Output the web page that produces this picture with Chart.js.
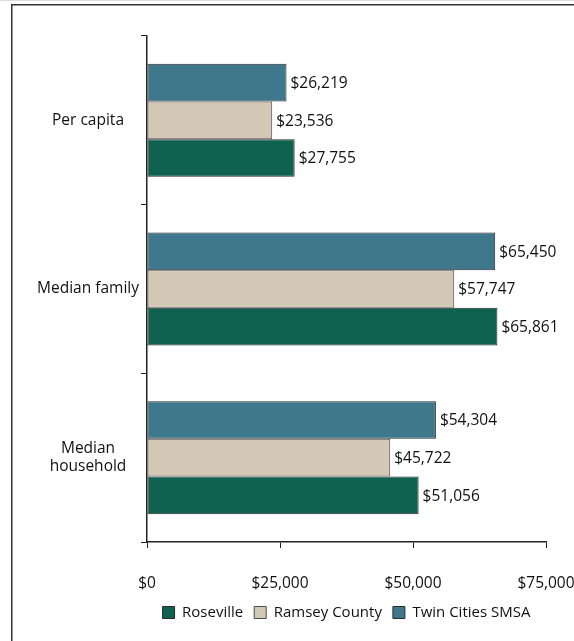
<!DOCTYPE html>
<html>
<head>
<meta charset="utf-8">
<script src="https://cdn.jsdelivr.net/npm/chart.js@4"></script>
<style>
  html, body { margin: 0; padding: 0; background: #fff; }
  #wrap { width: 574px; height: 641px; }
</style>
</head>
<body>
<div id="wrap"><canvas id="incomeChart" width="574" height="641"></canvas></div>
<script>
"use strict";

const categories = ["Per capita", "Median family", ["Median", "household"]];
const twinCities = [26219, 65450, 54304];
const ramseyCounty = [23536, 57747, 45722];
const roseville = [27755, 65861, 51056];
const xTicks = [0, 25000, 50000, 75000];

const FONT = "'Open Sans', sans-serif";
const SIZE = 15.5;
const INK = "#222";

const money = (v) => "$" + v.toLocaleString("en-US");

// value labels to the right of each bar
const valueLabels = {
  id: "valueLabels",
  afterDatasetsDraw: (chart) => {
    const { ctx } = chart;
    ctx.save();
    ctx.font = `${SIZE}px ${FONT}`;
    ctx.fillStyle = "#111";
    ctx.textAlign = "left";
    ctx.textBaseline = "middle";
    chart.data.datasets.forEach((ds, i) => {
      chart.getDatasetMeta(i).data.forEach((bar, j) => {
        ctx.fillText(money(ds.data[j]), bar.x + 4, bar.y + 1);
      });
    });
    ctx.restore();
  },
};

// white background and the outer frame
const frame = {
  id: "frame",
  beforeDraw: (chart) => {
    const { ctx, width, height } = chart;
    ctx.save();
    ctx.fillStyle = "#fff";
    ctx.fillRect(0, 0, width, height);
    ctx.strokeStyle = "#ddd";
    ctx.lineWidth = 1;
    ctx.beginPath();
    ctx.moveTo(0, 0.5);
    ctx.lineTo(width, 0.5);
    ctx.stroke();
    ctx.strokeStyle = "#333";
    ctx.lineWidth = 1.5;
    ctx.beginPath();
    ctx.moveTo(11.75, height + 2);
    ctx.lineTo(11.75, 4.75);
    ctx.lineTo(width + 2, 4.75);
    ctx.stroke();
    ctx.restore();
  },
};

const ctx = document.getElementById("incomeChart").getContext("2d");

new Chart(ctx, {
  type: "bar",
  data: {
    labels: categories,
    datasets: [
      {
        label: "Twin Cities SMSA",
        data: twinCities,
        backgroundColor: "#3f788c",
        borderColor: "#2a2a2a",
      },
      {
        label: "Ramsey County",
        data: ramseyCounty,
        backgroundColor: "#d3c8b6",
        borderColor: "#4a4a4a",
      },
      {
        label: "Roseville",
        data: roseville,
        backgroundColor: "#0f6250",
        borderColor: "#2a2a2a",
      },
    ],
  },
  options: {
    indexAxis: "y",
    responsive: false,
    animation: false,
    datasets: {
      bar: {
        borderWidth: 1,
        borderSkipped: false,
        barPercentage: 1,
        categoryPercentage: 0.67,
      },
    },
    layout: {
      padding: { top: 36, left: 20, right: 2, bottom: 11 },
    },
    plugins: {
      legend: {
        position: "bottom",
        fullSize: false,
        reverse: true,
        labels: {
          font: { family: FONT, size: 15 },
          color: "#111",
          boxWidth: 12,
          boxHeight: 12,
          padding: 11,
          useBorderRadius: false,
        },
      },
      tooltip: { enabled: false },
    },
    scales: {
      x: {
        min: 0,
        max: 75000,
        afterBuildTicks: (scale) => {
          scale.ticks = xTicks.map((v) => ({ value: v }));
        },
        afterFit: (scale) => {
          scale.height = 52;
          // only half a tick label sticks out past the last tick
          scale.paddingLeft = 20;
          scale.paddingRight = 28;
        },
        grid: {
          drawOnChartArea: false,
          drawTicks: true,
          tickLength: 6,
          color: INK,
        },
        border: { display: true, color: INK, width: 1.5 },
        ticks: {
          padding: 26,
          maxRotation: 0,
          font: { family: FONT, size: SIZE },
          color: "#111",
          callback: (v) => money(v),
        },
      },
      y: {
        afterFit: (scale) => {
          scale.width = 127;
        },
        grid: {
          offset: true,
          drawOnChartArea: false,
          drawTicks: true,
          tickLength: 6,
          color: INK,
        },
        border: { display: true, color: INK, width: 1.5 },
        ticks: {
          crossAlign: "center",
          padding: 2,
          font: { family: FONT, size: SIZE },
          color: "#111",
        },
      },
    },
  },
  plugins: [frame, valueLabels],
});
</script>
</body>
</html>
